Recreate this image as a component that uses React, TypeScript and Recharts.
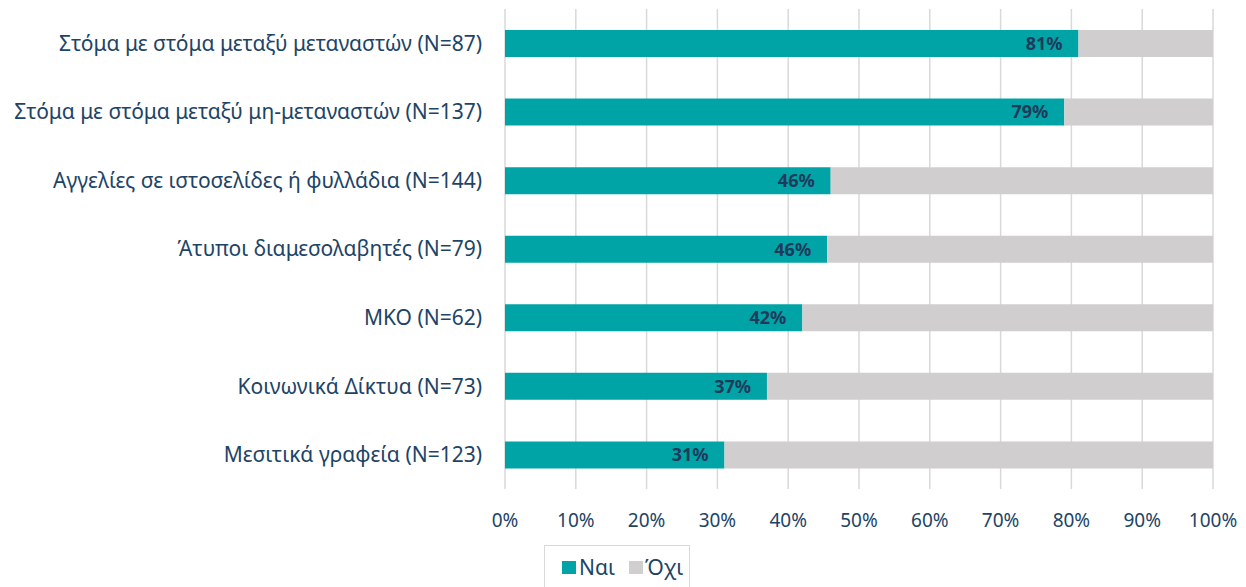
import React from 'react';
import { BarChart, Bar, XAxis, YAxis, CartesianGrid, LabelList, Legend } from 'recharts';

const categories = [
  'Στόμα με στόμα μεταξύ μεταναστών (N=87)',
  'Στόμα με στόμα μεταξύ μη-μεταναστών (N=137)',
  'Αγγελίες σε ιστοσελίδες ή φυλλάδια (N=144)',
  'Άτυποι διαμεσολαβητές (N=79)',
  'ΜΚΟ (N=62)',
  'Κοινωνικά Δίκτυα (N=73)',
  'Μεσιτικά γραφεία (N=123)',
];
const yesValues = [81, 79, 46, 45.5, 42, 37, 31];
const noValues = [19, 21, 54, 54.5, 58, 63, 69];
const xTicks = [0, 10, 20, 30, 40, 50, 60, 70, 80, 90, 100];

const TEAL = '#00A3A6';
const GREY = '#D0CECE';
const TEXT = '#1D4466';
const FONT = '"Noto Sans", "Open Sans", sans-serif';

const data = categories.map((name, i) => ({ name, yes: yesValues[i], no: noValues[i] }));

const LegendBox = () => (
  <div style={{ position: 'relative', height: 0 }}>
    <div
      style={{
        position: 'absolute',
        left: 0,
        top: 0,
        width: 146,
        height: 60,
        border: '1px solid #D9D9D9',
        boxSizing: 'border-box',
        fontFamily: FONT,
        fontSize: 21,
        color: TEXT,
      }}
    >
      <div style={{ position: 'absolute', left: 17, top: 7, height: 28, display: 'flex', alignItems: 'center' }}>
        <span style={{ display: 'inline-block', width: 14, height: 13, background: TEAL, marginRight: 3 }} />
        <span style={{ lineHeight: '28px', marginRight: 14 }}>Ναι</span>
        <span style={{ display: 'inline-block', width: 14, height: 13, background: GREY, marginRight: 2 }} />
        <span style={{ lineHeight: '28px' }}>Όχι</span>
      </div>
    </div>
  </div>
);

export default function App() {
  return (
    <div style={{ position: 'absolute', left: 0, top: 0, background: '#fff' }}>
      <BarChart
        width={1246}
        height={587}
        data={data}
        layout="vertical"
        margin={{ top: 9, right: 33, left: 0, bottom: 0 }}
        barSize={27}
      >
        <CartesianGrid horizontal={false} stroke="#D9D9D9" strokeWidth={1.5} />
        <XAxis
          type="number"
          domain={[0, 100]}
          ticks={xTicks}
          tickFormatter={(v: number) => `${v}%`}
          axisLine={false}
          tickLine={false}
          tickSize={6}
          tickMargin={19}
          height={98}
          interval={0}
          tick={{ fill: TEXT, fontSize: 19, fontFamily: FONT }}
        />
        <YAxis
          type="category"
          dataKey="name"
          width={505}
          axisLine={false}
          tickLine={false}
          tickSize={6}
          tickMargin={17}
          interval={0}
          tick={{ fill: TEXT, fontSize: 21, fontFamily: FONT }}
        />
        <Legend
          content={<LegendBox />}
          wrapperStyle={{ position: 'absolute', left: 544, top: 545, bottom: 'auto', width: 146, height: 0 }}
        />
        <Bar dataKey="yes" name="Ναι" stackId="a" fill={TEAL} isAnimationActive={false}>
          <LabelList
            dataKey="yes"
            position="insideRight"
            offset={16}
            formatter={(v: number) => `${Math.round(v)}%`}
            style={{ fill: '#1F3A5A', fontWeight: 700, fontSize: 18, fontFamily: FONT }}
          />
        </Bar>
        <Bar dataKey="no" name="Όχι" stackId="a" fill={GREY} isAnimationActive={false} />
      </BarChart>
    </div>
  );
}
